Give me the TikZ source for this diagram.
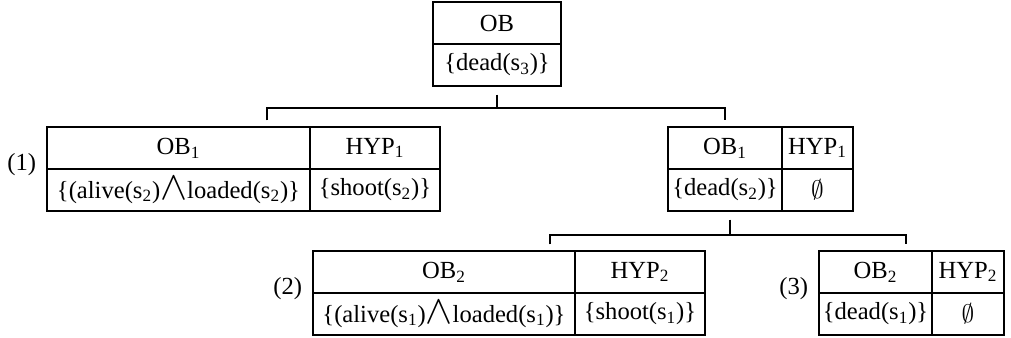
\documentclass[tikz,border=0pt]{standalone}
\usepackage{fontspec}
\setmainfont{Liberation Serif}
\usetikzlibrary{positioning,calc}
\tikzstyle{cell}=[rectangle, draw = black, line width=0.75pt, minimum height=0.84cm, inner sep=0pt, font=\fontsize{14}{16}\selectfont]
\tikzstyle{link}=[draw = black, line width=0.75pt]
\tikzstyle{tag}=[inner sep=0pt, font=\fontsize{14}{16}\selectfont]
\newcommand{\andop}{\raisebox{-0.1ex}{\scalebox{1.6}{$\wedge$}}}

\begin{document}
\begin{tikzpicture}[x=0.02cm, y=-0.02cm]
  \useasboundingbox (0,0) rectangle (1011,338);

  \node [cell, minimum width=2.56cm] at (497, 23) (ob) {OB};
  \node [cell, minimum width=2.56cm] at (497, 65) (dead3) {\{dead(s\textsubscript{3})\}};

  \node [cell, minimum width=5.26cm] at (178.5, 148) (ob1l) {OB\textsubscript{1}};
  \node [cell, minimum width=2.6cm] at (375, 148) (hyp1l) {HYP\textsubscript{1}};
  \node [cell, minimum width=5.26cm] at (178.5, 190) (al1) {\{(alive(s\textsubscript{2})\andop loaded(s\textsubscript{2})\}};
  \node [cell, minimum width=2.6cm] at (375, 190) (sh1) {\{shoot(s\textsubscript{2})\}};

  \node [cell, minimum width=2.28cm] at (725, 148) (ob1r) {OB\textsubscript{1}};
  \node [cell, minimum width=1.42cm] at (817.5, 148) (hyp1r) {HYP\textsubscript{1}};
  \node [cell, minimum width=2.28cm] at (725, 190) (dd1) {\{dead(s\textsubscript{2})\}};
  \node [cell, minimum width=1.42cm] at (817.5, 190) (em1) {$\emptyset$};

  \node [cell, minimum width=5.24cm] at (444, 272) (ob2l) {OB\textsubscript{2}};
  \node [cell, minimum width=2.6cm] at (640, 272) (hyp2l) {HYP\textsubscript{2}};
  \node [cell, minimum width=5.24cm] at (444, 314) (al2) {\{(alive(s\textsubscript{1})\andop loaded(s\textsubscript{1})\}};
  \node [cell, minimum width=2.6cm] at (640, 314) (sh2) {\{shoot(s\textsubscript{1})\}};

  \node [cell, minimum width=2.26cm] at (875.5, 272) (ob2r) {OB\textsubscript{2}};
  \node [cell, minimum width=1.44cm] at (968, 272) (hyp2r) {HYP\textsubscript{2}};
  \node [cell, minimum width=2.26cm] at (875.5, 314) (dd2) {\{dead(s\textsubscript{1})\}};
  \node [cell, minimum width=1.44cm] at (968, 314) (em2) {$\emptyset$};

  \node [tag, left=0.2cm of ob1l.south west, yshift=0.1cm] (t1) {(1)};
  \node [tag, left=0.2cm of ob2l.south west, yshift=0.1cm] (t2) {(2)};
  \node [tag, left=0.2cm of ob2r.south west, yshift=0.1cm] (t3) {(3)};

  \coordinate (j0) at (497, 108);
  \coordinate (j1) at (267, 108);
  \coordinate (j2) at (730, 235);
  \coordinate (j3) at (550, 235);
  \coordinate (j4) at (906, 235);

  \draw [link, shorten <=0.16cm] (dead3.south) -- (j0);
  \draw [link, shorten <=0.12cm, shorten >=0.12cm] (ob1l.north -| j1) -- (j1) -| (ob1r.north);

  \draw [link, shorten <=0.16cm] (dd1.south -| j2) -- (j2);
  \draw [link, shorten <=0.12cm, shorten >=0.12cm] (ob2l.north -| j3) -- (j3) -- (j4) -- (ob2r.north -| j4);
\end{tikzpicture}
\end{document}
